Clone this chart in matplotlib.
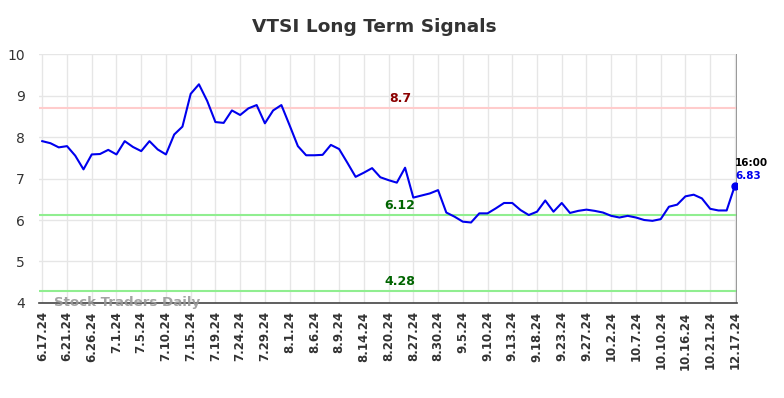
import matplotlib
matplotlib.use("Agg")
import matplotlib.pyplot as plt

# closing prices, one per trading session
prices = [7.90, 7.85, 7.75, 7.78, 7.55, 7.22, 7.58, 7.59, 7.69, 7.58,
          7.90, 7.76, 7.66, 7.90, 7.70, 7.58, 8.06, 8.25, 9.04, 9.27,
          8.87, 8.36, 8.34, 8.64, 8.53, 8.69, 8.77, 8.33, 8.64, 8.77,
          8.28, 7.78, 7.56, 7.56, 7.57, 7.81, 7.71, 7.38, 7.04, 7.14,
          7.25, 7.03, 6.96, 6.90, 7.26, 6.54, 6.59, 6.64, 6.72, 6.18,
          6.08, 5.96, 5.94, 6.16, 6.16, 6.28, 6.41, 6.41, 6.24, 6.12,
          6.20, 6.47, 6.20, 6.41, 6.17, 6.22, 6.25, 6.22, 6.18, 6.10,
          6.06, 6.10, 6.06, 6.00, 5.98, 6.02, 6.32, 6.37, 6.57, 6.61,
          6.52, 6.27, 6.23, 6.23, 6.83]

tick_labels = ["6.17.24", "6.21.24", "6.26.24", "7.1.24", "7.5.24", "7.10.24",
               "7.15.24", "7.19.24", "7.24.24", "7.29.24", "8.1.24", "8.6.24",
               "8.9.24", "8.14.24", "8.20.24", "8.27.24", "8.30.24", "9.5.24",
               "9.10.24", "9.13.24", "9.18.24", "9.23.24", "9.27.24", "10.2.24",
               "10.7.24", "10.10.24", "10.16.24", "10.21.24", "12.17.24"]

resistance = 8.7
support_hi = 6.12
support_lo = 4.28
last_time = "16:00"

x = list(range(len(prices)))
tick_pos = x[::3]

fig = plt.figure(figsize=(7.84, 3.98), dpi=100)
ax = fig.add_axes([0.0497, 0.2387, 0.8903, 0.6256])

ax.plot(x, prices, color="#0000ee", lw=1.5, zorder=3)
ax.plot(x[-1], prices[-1], "o", color="#0000ee", ms=5, zorder=4)

ax.axhline(resistance, color="#ffcccc", lw=1.5, zorder=2)
ax.axhline(support_hi, color="#90ee90", lw=1.5, zorder=2)
ax.axhline(support_lo, color="#90ee90", lw=1.5, zorder=2)
ax.axvline(x[-1] + 0.2, color="#888888", lw=1.2, zorder=2)

mid = 43.4
ax.text(mid, resistance + 0.07, f"{resistance:g}", color="#8b0000", fontsize=9,
        fontweight="bold", ha="center", va="bottom")
ax.text(mid, support_hi + 0.07, f"{support_hi:.2f}", color="#006400", fontsize=9,
        fontweight="bold", ha="center", va="bottom")
ax.text(mid, support_lo + 0.07, f"{support_lo:.2f}", color="#006400", fontsize=9,
        fontweight="bold", ha="center", va="bottom")

ax.text(x[-1], prices[-1] + 0.42, last_time, color="black", fontsize=7.5,
        fontweight="bold", ha="left", va="bottom")
ax.text(x[-1], prices[-1] + 0.1, f"{prices[-1]:.2f}", color="#0000ee", fontsize=7.5,
        fontweight="bold", ha="left", va="bottom")

ax.text(1.4, 4.0, "Stock Traders Daily", color="#999999", fontsize=9.6,
        fontweight="bold", ha="left", va="center", alpha=0.9, zorder=5)

ax.set_xlim(-0.4, 84.25)
ax.set_ylim(4, 10)
ax.set_yticks(range(4, 11))
ax.set_xticks(tick_pos)
ax.set_xticklabels(tick_labels, rotation=90, fontsize=8.5, fontweight="bold",
                   color="#333333")
ax.tick_params(axis="y", labelsize=10, colors="#333333", length=0, pad=10)
ax.tick_params(axis="x", length=0, pad=6)

ax.grid(True, color="#e6e6e6", lw=1)
ax.set_axisbelow(True)
for s in ["top", "left", "right"]:
    ax.spines[s].set_visible(False)
ax.spines["bottom"].set_color("#444444")
ax.spines["bottom"].set_linewidth(1.2)

fig.text(0.477, 0.932, "VTSI Long Term Signals", fontsize=13.3, fontweight="bold",
         color="#333333", ha="center", va="center")

fig.savefig("out.png", dpi=100)
